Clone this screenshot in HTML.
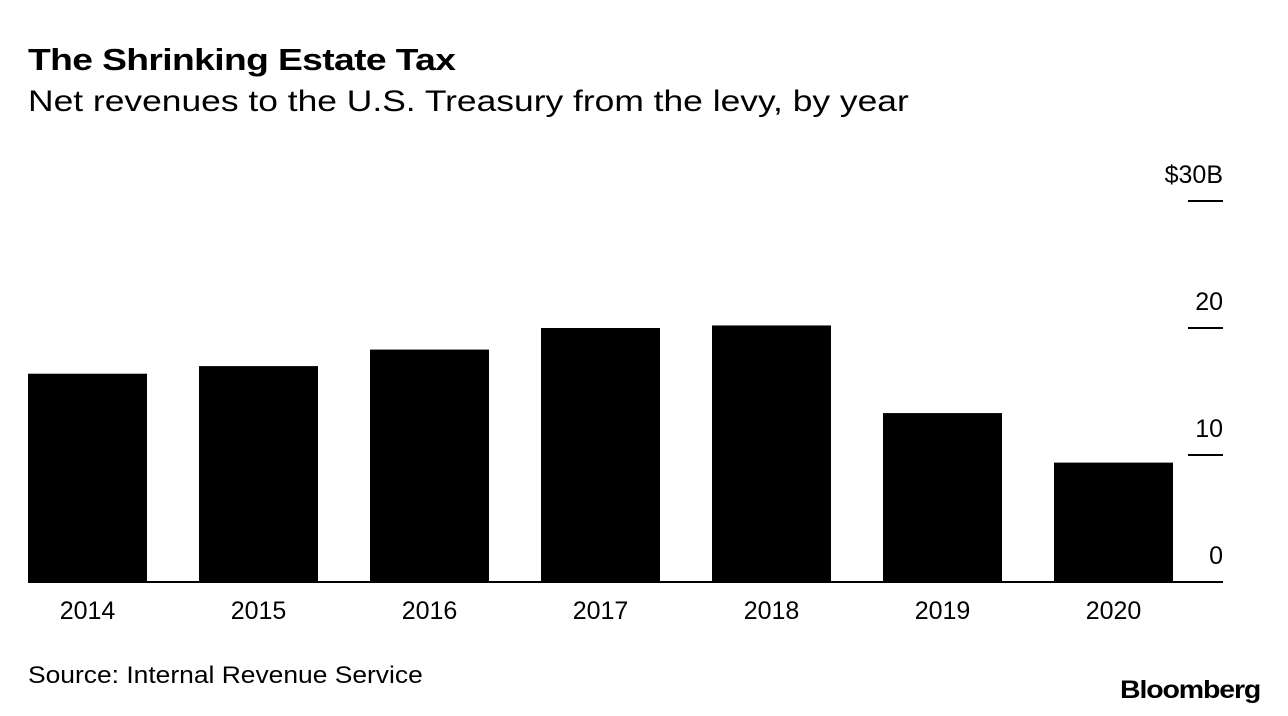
<!DOCTYPE html>
<html><head><meta charset="utf-8">
<style>
html,body{margin:0;padding:0;background:#fff;}
body{width:1288px;height:716px;overflow:hidden;position:relative;font-family:"Liberation Sans",sans-serif;color:#000;}
.t{position:absolute;white-space:nowrap;transform-origin:left top;}
</style></head>
<body>
<div class="t" style="left:28px;top:42px;font-size:31px;font-weight:bold;letter-spacing:-0.5px;transform:scaleX(1.2);">The Shrinking Estate Tax</div>
<div class="t" style="left:28px;top:85px;font-size:30px;transform:scaleX(1.18);">Net revenues to the U.S. Treasury from the levy, by year</div>
<svg id="chart" width="1288" height="716" style="position:absolute;left:0;top:0;"></svg>
<div class="t" style="left:28px;top:662px;font-size:24px;transform:scaleX(1.1);">Source: Internal Revenue Service</div>
<div class="t" style="left:1120px;top:676px;font-size:25px;font-weight:bold;letter-spacing:-1px;transform:scaleX(1.14);">Bloomberg</div>
<script>
const categories=["2014","2015","2016","2017","2018","2019","2020"];
const values=[16.4,17.0,18.3,20.0,20.2,13.3,9.4];
const tickValues=[0,10,20,30];
const tickLabels=["0","10","20","$30B"];
const svg=document.getElementById('chart');
const NS="http://www.w3.org/2000/svg";
const y0=582,pxPer=12.7;
function y(v){return y0-v*pxPer;}
const x0=28,step=171,bw=119;
function x(i){return x0+i*step;}
function add(tag,attrs,txt){const e=document.createElementNS(NS,tag);for(const k in attrs)e.setAttribute(k,attrs[k]);if(txt!=null)e.textContent=txt;svg.appendChild(e);return e;}
tickValues.forEach((v,i)=>{
  if(v!==0){const l=add('line',{x1:1188,x2:1223,y1:y(v),y2:y(v),stroke:'#000','stroke-width':2});
  
  }
  const t=add('text',{x:1223,y:y(v)-18,'text-anchor':'end','font-size':25,'font-family':'Liberation Sans, sans-serif'},tickLabels[i]);
  
  
});
categories.forEach((c,i)=>{
  const r=add('rect',{x:x(i),y:y(values[i]),width:bw,height:values[i]*pxPer,fill:'#000'});
  
  
  const t=add('text',{x:x(i)+bw/2,y:619,'text-anchor':'middle','font-size':25,'font-family':'Liberation Sans, sans-serif'},c);
  
  
});
const b=add('line',{x1:28,x2:1223,y1:y0,y2:y0,stroke:'#000','stroke-width':2});


</script>
</body></html>
